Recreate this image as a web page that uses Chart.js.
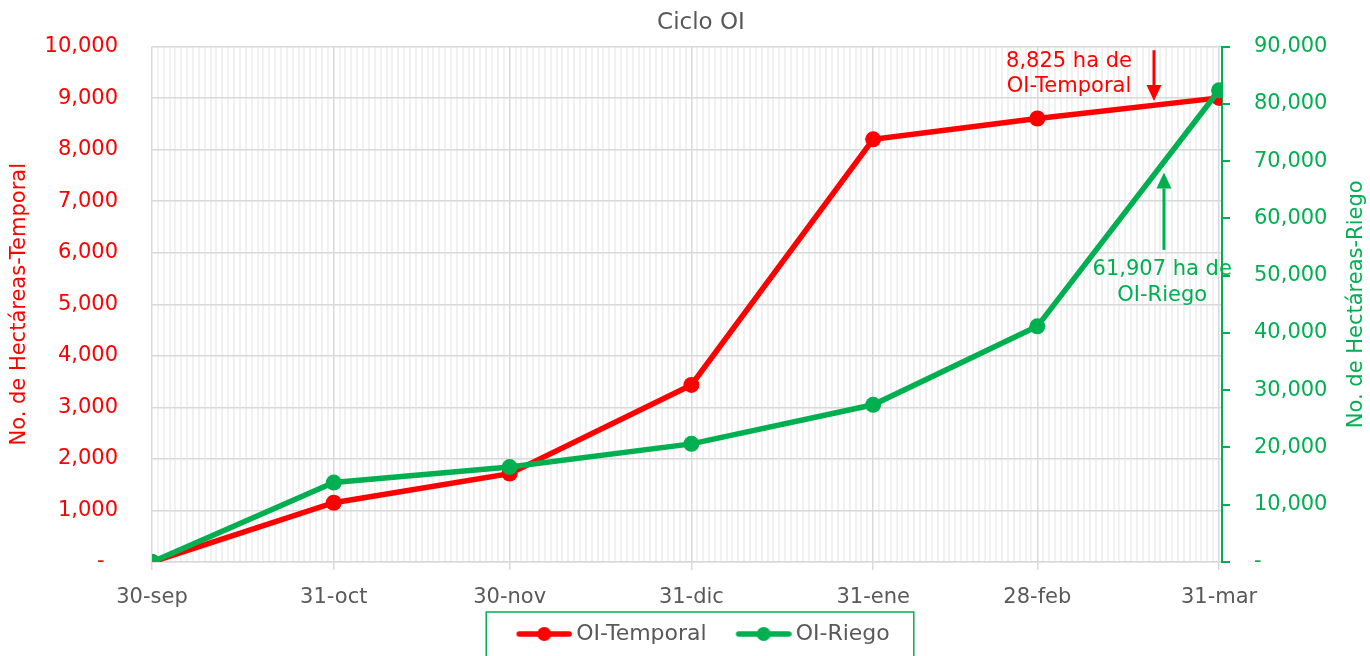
<!DOCTYPE html>
<html>
<head>
<meta charset="utf-8">
<script src="https://cdn.jsdelivr.net/npm/chart.js@4/dist/chart.umd.min.js"></script>
<style>
  html, body { margin: 0; padding: 0; background: #ffffff; }
  canvas { display: block; }
</style>
</head>
<body>
<canvas id="chart" width="1370" height="656"></canvas>
<script>
// ---- data ----
const categories = ['30-sep', '31-oct', '30-nov', '31-dic', '31-ene', '28-feb', '31-mar'];
const dayOffsets = [0, 31, 61, 92, 123, 151, 182];          // days after 30-sep
const temporal = [0, 1150, 1715, 3435, 8200, 8605, 9005];    // OI-Temporal (left axis)
const riego = [0, 13870, 16580, 20630, 27450, 41150, 82370]; // OI-Riego (right axis)
const leftTicks = [0, 1000, 2000, 3000, 4000, 5000, 6000, 7000, 8000, 9000, 10000];
const rightTicks = [0, 10000, 20000, 30000, 40000, 50000, 60000, 70000, 80000, 90000];
const totalDays = 182;

// ---- styles ----
const FONT = "'DejaVu Sans', sans-serif";
const RED = '#FF0000';
const GREEN = '#00B050';
const GRAY = '#595959';
const FS = 21;

function fmtLeft(v) { return v === 0 ? '-  ' : v.toLocaleString('en-US'); }
function fmtRight(v) { return v === 0 ? '-' : v.toLocaleString('en-US'); }

// legend marker: line with dot, placed in the right part of an 82px wide image
function makeMarker(color) {
  const c = document.createElement('canvas');
  c.width = 82; c.height = 18;
  const g = c.getContext('2d');
  g.strokeStyle = color; g.lineWidth = 5.5; g.lineCap = 'round';
  g.beginPath(); g.moveTo(29, 9); g.lineTo(79, 9); g.stroke();
  g.fillStyle = color;
  g.beginPath(); g.arc(54, 9, 7, 0, Math.PI * 2); g.fill();
  return c;
}
const markers = [makeMarker(RED), makeMarker(GREEN)];

// annotation placement (in data units)
const notes = [
  { axis: 'y', x: 156.4, y: 9717, lines: ['8,825 ha de', 'OI-Temporal'], color: RED },
  { axis: 'y2', x: 172.3, y: 51030, lines: ['61,907 ha de', 'OI-Riego'], color: GREEN }
];
const arrows = [
  { axis: 'y', x: 170.9, from: 9930, to: 8945, color: RED },
  { axis: 'y2', x: 172.6, from: 54500, to: 68025, color: GREEN }
];
const rightTitle = 'No. de Hectáreas-Riego';

const extras = {
  id: 'extras',
  afterLayout(chart) {
    const lg = chart.legend;
    const pad = lg.options.labels.padding;
    const lw = lg.lineWidths[0];
    const start = (lg.left + pad + lg.right - lw) / 2;
    const center = start + (19 + lw - pad) / 2;
    const shift = 703 - center;
    lg.left += shift; lg.right += shift;
    const tb = chart.titleBlock;
    tb.left += 16; tb.right += 16;
  },
  afterDatasetsDraw(chart) {
    const ctx = chart.ctx;
    const xs = chart.scales.x;
    ctx.save();
    ctx.font = FS + 'px ' + FONT;
    ctx.textAlign = 'center';
    ctx.textBaseline = 'middle';
    notes.forEach(n => {
      const px = xs.getPixelForValue(n.x);
      const py = chart.scales[n.axis].getPixelForValue(n.y);
      ctx.fillStyle = n.color;
      n.lines.forEach((t, i) => ctx.fillText(t, px, py + i * 25.5));
    });
    arrows.forEach(a => {
      const ys = chart.scales[a.axis];
      const px = xs.getPixelForValue(a.x);
      const y0 = ys.getPixelForValue(a.from);
      const y1 = ys.getPixelForValue(a.to);
      const dir = Math.sign(y1 - y0);
      const head = 16, hw = 7.5;
      ctx.strokeStyle = a.color; ctx.fillStyle = a.color; ctx.lineWidth = 3;
      ctx.beginPath(); ctx.moveTo(px, y0); ctx.lineTo(px, y1 - dir * head); ctx.stroke();
      ctx.beginPath();
      ctx.moveTo(px, y1);
      ctx.lineTo(px - hw, y1 - dir * head);
      ctx.lineTo(px + hw, y1 - dir * head);
      ctx.closePath(); ctx.fill();
    });
    ctx.restore();
  },
  afterDraw(chart) {
    const ctx = chart.ctx;
    // right axis title, reading bottom-to-top
    const y2 = chart.scales.y2;
    const ca = chart.chartArea;
    ctx.save();
    ctx.translate(y2.right - 13, (ca.top + ca.bottom) / 2);
    ctx.rotate(-Math.PI / 2);
    ctx.font = FS + 'px ' + FONT;
    ctx.fillStyle = GREEN;
    ctx.textAlign = 'center';
    ctx.textBaseline = 'middle';
    ctx.fillText(rightTitle, 0, 0);
    ctx.restore();
    // legend border
    const lg = chart.legend;
    const hb = lg.legendHitBoxes;
    if (!hb || !hb.length) return;
    const first = hb[0], last = hb[hb.length - 1];
    const cy = first.top + first.height / 2;
    ctx.save();
    ctx.strokeStyle = GREEN; ctx.lineWidth = 1.5;
    const l = first.left + 19 - 30, r = last.left + last.width + 24;
    ctx.strokeRect(l, cy - 22, r - l, 80);
    ctx.restore();
  }
};

const majorSet = new Set(dayOffsets);

new Chart(document.getElementById('chart'), {
  type: 'line',
  data: {
    datasets: [
      {
        label: 'OI-Temporal',
        data: dayOffsets.map((d, i) => ({ x: d, y: temporal[i] })),
        yAxisID: 'y',
        borderColor: RED, backgroundColor: RED,
        borderWidth: 5.5, pointRadius: 8, pointHoverRadius: 8,
        pointBorderWidth: 0, tension: 0, order: 1
      },
      {
        label: 'OI-Riego',
        data: dayOffsets.map((d, i) => ({ x: d, y: riego[i] })),
        yAxisID: 'y2',
        borderColor: GREEN, backgroundColor: GREEN,
        borderWidth: 5.5, pointRadius: 8, pointHoverRadius: 8,
        pointBorderWidth: 0, tension: 0, order: 0
      }
    ]
  },
  options: {
    responsive: false,
    animation: false,
    devicePixelRatio: 1,
    layout: { padding: { left: 0, right: 0, top: 0, bottom: 1 } },
    plugins: {
      title: {
        display: true, text: 'Ciclo OI', color: GRAY,
        font: { family: FONT, size: 23, weight: 'normal' },
        padding: { top: 6, bottom: 9.7 }
      },
      legend: {
        position: 'bottom',
        labels: {
          usePointStyle: true, pointStyleWidth: 68, padding: 10,
          color: GRAY, font: { family: FONT, size: 22 },
          sort: (a, b) => a.datasetIndex - b.datasetIndex,
          generateLabels(chart) {
            const items = Chart.defaults.plugins.legend.labels.generateLabels(chart);
            items.forEach(it => { it.pointStyle = markers[it.datasetIndex]; });
            return items;
          }
        }
      },
      tooltip: { enabled: false }
    },
    scales: {
      x: {
        type: 'linear', min: 0, max: totalDays + 0.5,
        afterBuildTicks(s) {
          const t = [];
          for (let i = 0; i <= totalDays; i++) t.push({ value: i });
          s.ticks = t;
        },
        afterFit(s) { s.height = 51; },
        ticks: {
          autoSkip: false, maxRotation: 0, minRotation: 0,
          color: GRAY, font: { family: FONT, size: FS }, padding: 15,
          callback(v) { const k = dayOffsets.indexOf(v); return k >= 0 ? categories[k] : ''; }
        },
        grid: {
          color: c => majorSet.has(c.tick && c.tick.value) ? '#d9d9d9' : '#f1f1f1',
          lineWidth: c => majorSet.has(c.tick && c.tick.value) ? 1.5 : 2,
          tickColor: c => majorSet.has(c.tick && c.tick.value) ? '#d9d9d9' : 'rgba(0,0,0,0)',
          tickLength: 8
        },
        border: { color: '#d9d9d9', width: 1.5 }
      },
      y: {
        position: 'left', min: 0, max: 10000,
        afterBuildTicks(s) { s.ticks = leftTicks.map(v => ({ value: v })); },
        afterFit(s) { s.width = 152; },
        ticks: { color: RED, font: { family: FONT, size: FS }, padding: 34, callback: fmtLeft },
        grid: { color: '#d9d9d9', lineWidth: 1.5, drawTicks: false },
        border: { display: false },
        title: {
          display: true, text: 'No. de Hectáreas-Temporal', color: RED,
          font: { family: FONT, size: FS }, padding: { top: 7.4, bottom: 0 }
        }
      },
      y2: {
        position: 'right', min: 0, max: 90000,
        afterBuildTicks(s) { s.ticks = rightTicks.map(v => ({ value: v })); },
        afterFit(s) { s.width = 148; },
        ticks: { color: GREEN, font: { family: FONT, size: FS }, padding: 24, callback: fmtRight },
        grid: { drawOnChartArea: false, color: GREEN, tickColor: GREEN, tickLength: 8, lineWidth: 2 },
        border: { color: GREEN, width: 2 },
        title: { display: false }
      }
    }
  },
  plugins: [extras]
});
</script>
</body>
</html>
